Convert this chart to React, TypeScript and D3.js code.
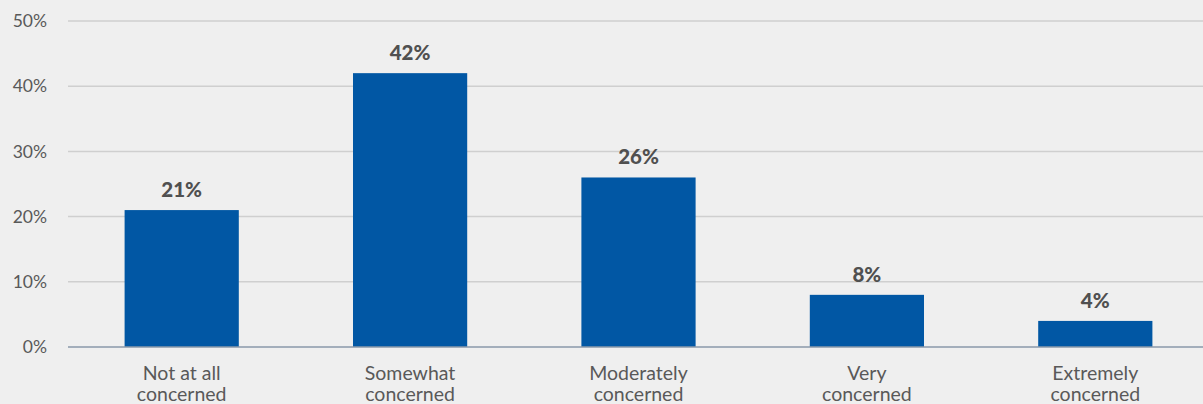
import React from "react";
import * as d3 from "d3";

const categories: string[][] = [
  ["Not at all", "concerned"],
  ["Somewhat", "concerned"],
  ["Moderately", "concerned"],
  ["Very", "concerned"],
  ["Extremely", "concerned"],
];
const values: number[] = [21, 42, 26, 8, 4];
const yTicks: number[] = [0, 10, 20, 30, 40, 50];

const W = 1203;
const H = 404;
const FONT = "Lato, 'Open Sans', sans-serif";

export default function App() {
  const x = d3
    .scaleBand<number>()
    .domain(values.map((_, i) => i))
    .range([67.5, 1209.5])
    .paddingInner(0.5)
    .paddingOuter(0.25);
  const y = d3.scaleLinear().domain([0, 50]).range([347, 21]);

  return (
    <div style={{ position: "absolute", left: 0, top: 0 }}>
      <svg width={W} height={H} style={{ display: "block", background: "#efefef" }}>
        <rect x={0} y={0} width={W} height={H} fill="#efefef" />
        {yTicks.map((t) => (
          <g key={t}>
            {t > 0 && (
              <line x1={68} x2={W} y1={y(t)} y2={y(t)} stroke="#cfcfcf" strokeWidth={1.5} />
            )}
            <text
              x={47}
              y={y(t)}
              dy="0.35em"
              textAnchor="end"
              fontFamily={FONT}
              fontSize={17.5}
              fill="#595959"
            >
              {t}%
            </text>
          </g>
        ))}
        {values.map((v, i) => (
          <g key={i}>
            <rect
              x={x(i)!}
              y={y(v)}
              width={x.bandwidth()}
              height={y(0) - y(v)}
              fill="#0157a4"
            />
            <text
              x={x(i)! + x.bandwidth() / 2}
              y={y(v) - 13}
              textAnchor="middle"
              fontFamily={FONT}
              fontSize={20.5}
              fontWeight={900}
              fill="#505050"
            >
              {v}%
            </text>
            {categories[i].map((line, j) => (
              <text
                key={j}
                x={x(i)! + x.bandwidth() / 2}
                y={380 + j * 21}
                textAnchor="middle"
                fontFamily={FONT}
                fontSize={19.5}
                fill="#595959"
              >
                {line}
              </text>
            ))}
          </g>
        ))}
        <line x1={68} x2={W} y1={y(0)} y2={y(0)} stroke="#8a99aa" strokeWidth={1.5} />
      </svg>
    </div>
  );
}
